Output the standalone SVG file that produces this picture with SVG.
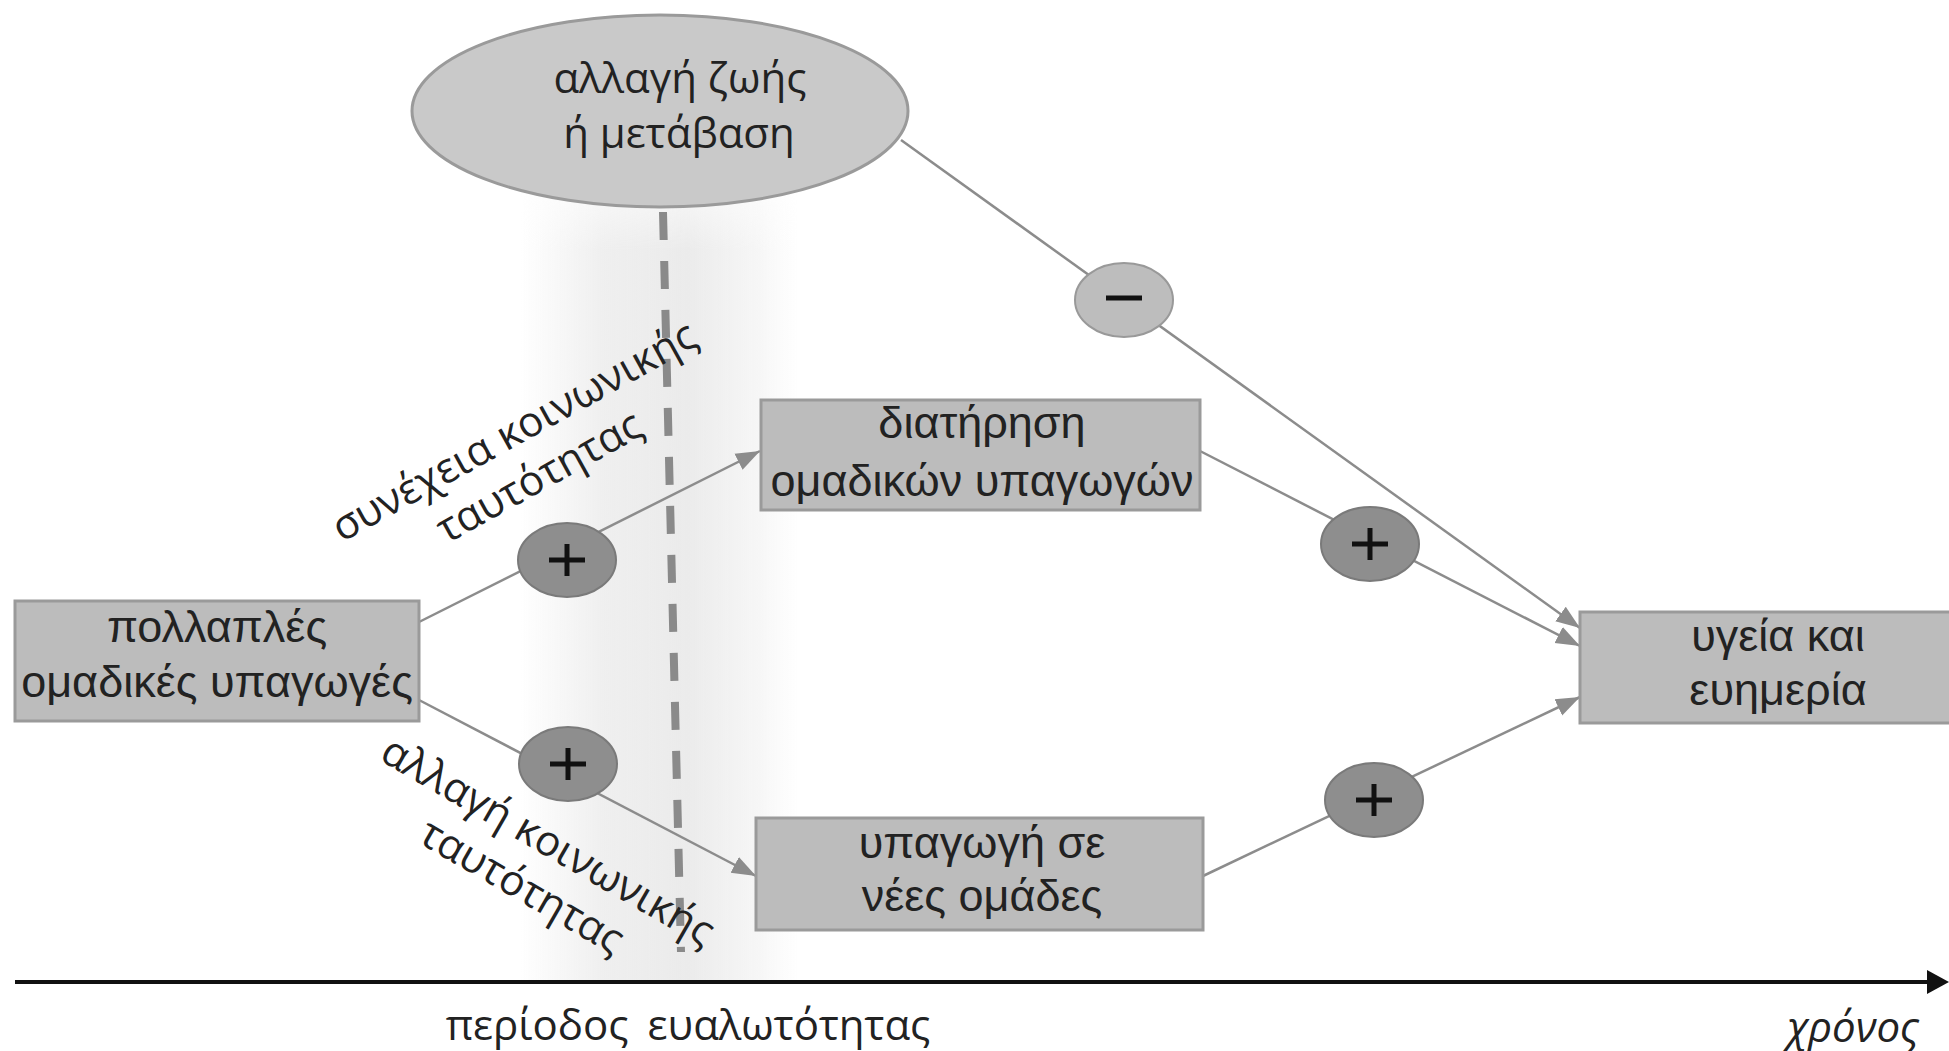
<svg xmlns="http://www.w3.org/2000/svg" width="1949" height="1051" viewBox="0 0 1949 1051">
<style>
.box{fill:#bcbcbc;stroke:#9a9a9a;stroke-width:3}
.bt{font-family:"Liberation Sans",Arial,sans-serif;font-size:45px;fill:#222;text-anchor:middle}
.ht{font-family:"Open Sans","Noto Sans",sans-serif;font-size:42px;fill:#222;text-anchor:middle}
.plus{fill:#8e8e8e;stroke:#7a7a7a;stroke-width:2}
.minus{fill:#bdbdbd;stroke:#999;stroke-width:2}
.sign{stroke:#111;stroke-width:5;fill:none}
.con{stroke:#8c8c8c;stroke-width:2.5;fill:none}
</style>
<defs>
<marker id="arr" markerUnits="userSpaceOnUse" markerWidth="26" markerHeight="20" refX="24" refY="10" orient="auto">
<path d="M0,1 L24,10 L0,19 Z" fill="#8c8c8c"/>
</marker>
<linearGradient id="band" x1="0" y1="0" x2="1" y2="0">
<stop offset="0" stop-color="#ececec" stop-opacity="0"/>
<stop offset="0.3" stop-color="#ececec" stop-opacity="0.85"/>
<stop offset="0.6" stop-color="#ebebeb" stop-opacity="1"/>
<stop offset="0.85" stop-color="#f0f0f0" stop-opacity="0.6"/>
<stop offset="1" stop-color="#f4f4f4" stop-opacity="0"/>
</linearGradient>
<linearGradient id="vfade" x1="0" y1="0" x2="0" y2="1">
<stop offset="0" stop-color="#fff" stop-opacity="0"/>
<stop offset="0.12" stop-color="#fff" stop-opacity="1"/>
<stop offset="1" stop-color="#fff" stop-opacity="1"/>
</linearGradient>
<mask id="bandmask"><rect x="520" y="150" width="280" height="830" fill="url(#vfade)"/></mask>
</defs>
<rect width="1949" height="1051" fill="#fff"/>
<rect x="520" y="150" width="280" height="830" fill="url(#band)" mask="url(#bandmask)"/>

<line x1="663" y1="212" x2="681" y2="952" stroke="#8a8a8a" stroke-width="8" stroke-dasharray="28,21"/>

<g id="connectors">
<line class="con" x1="419" y1="622" x2="760" y2="451" marker-end="url(#arr)"/>
<line class="con" x1="419" y1="700" x2="756" y2="876" marker-end="url(#arr)"/>
<line class="con" x1="901" y1="140" x2="1580" y2="628" marker-end="url(#arr)"/>
<line class="con" x1="1200" y1="451" x2="1580" y2="646" marker-end="url(#arr)"/>
<line class="con" x1="1203" y1="876" x2="1580" y2="697" marker-end="url(#arr)"/>
</g>

<g id="life-change">
<ellipse cx="660" cy="111" rx="248" ry="96" fill="#c9c9c9" stroke="#9a9a9a" stroke-width="3"/>
<text class="ht" x="680" y="93">αλλαγή ζωής</text>
<text class="ht" x="679" y="148">ή μετάβαση</text>
</g>

<g id="multiple-groups">
<rect class="box" x="15" y="601" width="404" height="120"/>
<text class="bt" x="217" y="642">πολλαπλές</text>
<text class="bt" x="217" y="697">ομαδικές υπαγωγές</text>
</g>

<g id="maintenance">
<rect class="box" x="761" y="400" width="439" height="110"/>
<text class="bt" x="982" y="438">διατήρηση</text>
<text class="bt" x="982" y="496">ομαδικών υπαγωγών</text>
</g>

<g id="new-groups">
<rect class="box" x="756" y="818" width="447" height="112"/>
<text class="bt" x="982" y="858">υπαγωγή σε</text>
<text class="bt" x="982" y="911">νέες ομάδες</text>
</g>

<g id="health">
<rect class="box" x="1580" y="612" width="380" height="111"/>
<text class="bt" x="1778" y="651">υγεία και</text>
<text class="bt" x="1778" y="705">ευημερία</text>
</g>

<g id="plus-upper-left">
<ellipse class="plus" cx="567" cy="560" rx="49" ry="37"/>
<path class="sign" d="M549,560 H585 M567,544 V576"/>
</g>
<g id="plus-lower-left">
<ellipse class="plus" cx="568" cy="764" rx="49" ry="37"/>
<path class="sign" d="M550,764 H586 M568,748 V780"/>
</g>
<g id="minus">
<ellipse class="minus" cx="1124" cy="300" rx="49" ry="37"/>
<path class="sign" d="M1106,298 H1142"/>
</g>
<g id="plus-upper-right">
<ellipse class="plus" cx="1370" cy="544" rx="49" ry="37"/>
<path class="sign" d="M1352,544 H1388 M1370,528 V560"/>
</g>
<g id="plus-lower-right">
<ellipse class="plus" cx="1374" cy="800" rx="49" ry="37"/>
<path class="sign" d="M1356,800 H1392 M1374,784 V816"/>
</g>

<g id="label-continuity" transform="translate(515,433) rotate(-29)">
<text class="ht" x="0" y="12" font-size="40">συνέχεια κοινωνικής</text>
<text class="ht" x="0" y="64" font-size="40">ταυτότητας</text>
</g>
<g id="label-change" transform="translate(547,843) rotate(30)">
<text class="ht" x="0" y="12" font-size="40">αλλαγή κοινωνικής</text>
<text class="ht" x="0" y="64" font-size="40">ταυτότητας</text>
</g>

<g id="time-axis">
<line x1="15" y1="982" x2="1932" y2="982" stroke="#111" stroke-width="4"/>
<path d="M1927,970 L1949,982 L1927,994 Z" fill="#111"/>
<text class="ht" x="688" y="1040" font-size="40" word-spacing="8">περίοδος ευαλωτότητας</text>
<text class="ht" x="1853" y="1042" font-size="44" font-style="italic">χρόνος</text>
</g>
</svg>
